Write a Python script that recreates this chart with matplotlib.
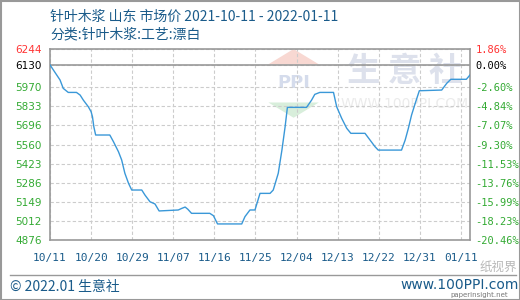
import numpy as np
import pandas as pd
import matplotlib
matplotlib.use("Agg")
import matplotlib.pyplot as plt
from matplotlib.patches import Rectangle, Polygon
from matplotlib.lines import Line2D

plt.rcParams['font.family'] = ['Noto Sans CJK SC', 'DejaVu Sans']

# ---- data ----
start_date = "2021-10-11"
end_date = "2022-01-11"
day_offsets = [0, 2.2, 2.9, 4.0, 5.8, 6.6, 7.3, 8.4, 9.0, 9.3, 9.6, 10.0,
               13.1, 13.9, 15.0, 15.7, 16.4, 17.2, 17.9, 20.1, 20.8, 21.9,
               23.0, 23.9, 28.1, 28.9, 29.6, 30.2, 31.0, 35.0, 35.8, 36.7,
               42.0, 42.7, 43.8, 44.9, 46.0, 48.2, 48.9, 50.0, 50.8, 51.5,
               52.0, 56.2, 57.3, 58.0, 59.1, 62.1, 62.8, 63.9, 65.0, 65.9,
               69.0, 70.1, 71.2, 71.9, 77.0, 77.8, 78.5, 79.2, 80.0, 80.9,
               85.8, 86.9, 87.8, 91.2, 92.0]
prices = [6130, 6022, 5962, 5933, 5933, 5914, 5878, 5830, 5795, 5759, 5687, 5628,
          5628, 5580, 5508, 5449, 5354, 5282, 5234, 5234, 5198, 5150,
          5134, 5084, 5091, 5103, 5112, 5096, 5067, 5067, 5050, 4991,
          4991, 5043, 5091, 5091, 5210, 5210, 5234, 5354, 5520, 5687,
          5826, 5826, 5878, 5919, 5933, 5933, 5830, 5747, 5676, 5640,
          5640, 5592, 5544, 5520, 5520, 5592, 5676, 5771, 5855, 5945,
          5950, 5998, 6027, 6027, 6058]

base_price = 6130
y_min, y_max = 4876, 6244
left_labels = ['4876', '5012', '5149', '5286', '5423', '5560', '5696',
               '5833', '5970', '6130', '6244']
right_labels = ['-20.46%', '-18.23%', '-15.99%', '-13.76%', '-11.53%', '-9.30%',
                '-7.07%', '-4.84%', '-2.60%', '0.00%', '1.86%']
x_tick_labels = ['10/11', '10/20', '10/29', '11/07', '11/16', '11/25',
                 '12/04', '12/13', '12/22', '12/31', '01/11']

title = "针叶木浆 山东 市场价 2021-10-11 - 2022-01-11"
subtitle = "分类:针叶木浆:工艺:漂白"

# ---- build ----
t0 = pd.Timestamp(start_date)
dates = [t0 + pd.Timedelta(days=d) for d in day_offsets]
y_ticks = list(np.linspace(y_min, 5970, 9)) + [base_price, y_max]
x_ticks = [t0 + pd.Timedelta(days=9 * i) for i in range(len(x_tick_labels))]

blue_txt = '#1a5b8a'
green = '#33aa33'
red = '#ff3333'
grid_c = '#cccccc'
spine_c = '#999999'

fig = plt.figure(figsize=(5.2, 3.0), dpi=100)
ax = fig.add_axes([50 / 520, 60 / 300, 420 / 520, 191 / 300])

# watermark (logo + site name)
ax.text(0.845, 0.88, "生 意 社", transform=ax.transAxes, fontsize=24,
        color='#dde1ec', ha='center', va='center', fontweight='bold', zorder=0)
ax.text(0.845, 0.71, "WWW.100PPI.COM", transform=ax.transAxes, fontsize=10,
        color='#ebebeb', ha='center', va='center', zorder=0, family='DejaVu Sans')
ax.add_patch(Polygon([[0.52, 0.92], [0.64, 0.92], [0.58, 1.0]], closed=True,
                     transform=ax.transAxes, fc='#f8d8d2', ec='none', zorder=0))
ax.add_patch(Polygon([[0.52, 0.72], [0.64, 0.72], [0.58, 0.64]], closed=True,
                     transform=ax.transAxes, fc='#d8eedb', ec='none', zorder=0))
ax.text(0.58, 0.82, "PPI", transform=ax.transAxes, fontsize=13,
        color='#d5dcec', ha='center', va='center', fontweight='bold', zorder=0,
        family='DejaVu Sans')

ax.plot(dates, prices, color='#3a98d8', lw=1.0, zorder=3)
ax.axhline(base_price, color=spine_c, lw=1.2, zorder=2)

ax.set_xlim(t0, pd.Timestamp(end_date))
ax.set_ylim(y_min, y_max)
ax.set_yticks(y_ticks)
ax.set_yticklabels(left_labels, family='DejaVu Sans', fontsize=7.5)
ax.set_xticks(x_ticks)
ax.set_xticklabels(x_tick_labels, family='DejaVu Sans Mono', fontsize=8,
                   color=blue_txt)
for lab in ax.get_yticklabels():
    t = lab.get_text()
    lab.set_color(red if t == '6244' else ('black' if t == '6130' else green))

ax.grid(True, ls=(0, (3, 2)), color=grid_c, lw=0.8)
ax.tick_params(length=0, pad=6)
ax.tick_params(axis='x', pad=9)
for s in ax.spines.values():
    s.set_color(spine_c)
    s.set_linewidth(1.2)

ax2 = ax.twinx()
ax2.set_ylim(y_min, y_max)
ax2.set_yticks(y_ticks)
ax2.set_yticklabels(right_labels, family='DejaVu Sans Mono', fontsize=7.5)
for lab in ax2.get_yticklabels():
    t = lab.get_text()
    lab.set_color(red if t == '1.86%' else ('black' if t == '0.00%' else green))
ax2.tick_params(length=0, pad=4)
for s in ax2.spines.values():
    s.set_visible(False)

fig.text(50 / 520, 1 - 17 / 300, title, fontsize=10, color=blue_txt,
         va='center', ha='left')
fig.text(50 / 520, 1 - 34 / 300, subtitle, fontsize=10, color=blue_txt,
         va='center', ha='left')

# footer
fig.add_artist(Line2D([10 / 520, 516 / 520], [1 - 275 / 300] * 2,
                      color=spine_c, lw=1, transform=fig.transFigure))
fig.text(10 / 520, 1 - 287 / 300, "© 2022.01 生意社", fontsize=10,
         color=blue_txt, va='center', ha='left')
fig.text(400 / 520, 1 - 285 / 300, "www.100PPI.com", fontsize=10,
         color=blue_txt, va='center', ha='left', family='DejaVu Sans')
fig.text(508 / 520, 1 - 298.5 / 300, "paperinsight.net", fontsize=5,
         color='#777777', va='bottom', ha='right', family='DejaVu Sans')
fig.text(480 / 520, 1 - 267 / 300, "纸视界", fontsize=9,
         color='#888888', va='center', ha='left', alpha=0.6)

fig.add_artist(Rectangle((0.5 / 520, 0.5 / 300), 519 / 520, 299 / 300,
                         fill=False, ec=spine_c, lw=1.5,
                         transform=fig.transFigure))

fig.savefig("out.png", dpi=100)
